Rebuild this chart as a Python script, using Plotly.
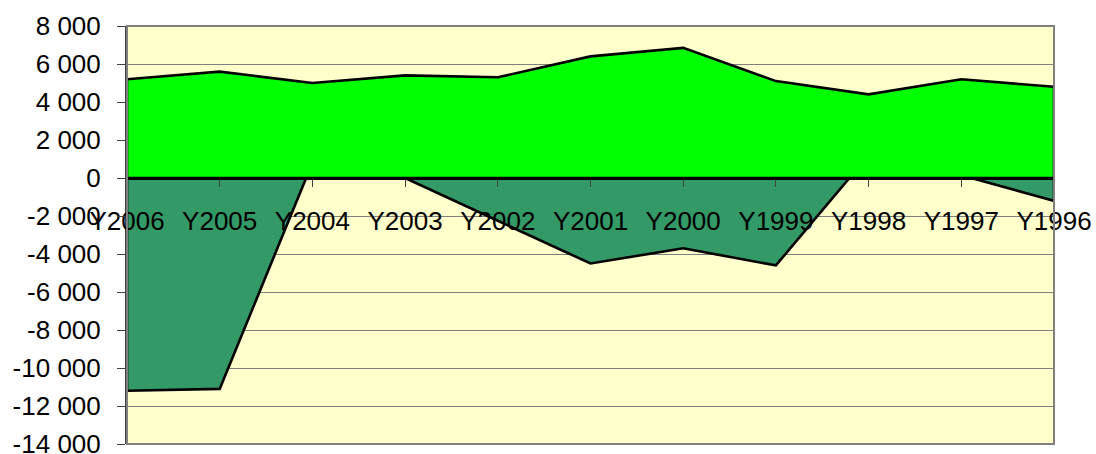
import plotly.graph_objects as go

categories = ["Y2006", "Y2005", "Y2004", "Y2003", "Y2002", "Y2001",
              "Y2000", "Y1999", "Y1998", "Y1997", "Y1996"]
series_positive = [5200, 5600, 5000, 5400, 5300, 6400, 6850, 5100, 4400, 5200, 4800]
series_negative = [-11200, -11100, 800, 0, -2250, -4500, -3700, -4600, 1200, 150, -1200]
y_ticks = [8000, 6000, 4000, 2000, 0, -2000, -4000, -6000, -8000, -10000, -12000, -14000]
y_tick_labels = [f"{v:,}".replace(",", " ") for v in y_ticks]

FONT = "Liberation Sans, Arial, sans-serif"
FS = 26
idx = list(range(len(categories)))


def polygon(vals):
    xs = idx + [idx[-1], idx[0], idx[0]]
    ys = list(vals) + [0, 0, vals[0]]
    return xs, ys


fig = go.Figure()
xn, yn = polygon(series_negative)
fig.add_trace(go.Scatter(x=xn, y=yn, mode="lines", fill="toself",
                         fillcolor="#339966", line=dict(color="#000000", width=2.6),
                         hoverinfo="skip", showlegend=False))
xp, yp = polygon(series_positive)
fig.add_trace(go.Scatter(x=xp, y=yp, mode="lines", fill="toself",
                         fillcolor="#00FF00", line=dict(color="#000000", width=2.6),
                         hoverinfo="skip", showlegend=False))

ymin, ymax = -14000, 8000
zero_pos = (0 - ymin) / (ymax - ymin)

fig.update_layout(
    width=1096, height=454,
    margin=dict(l=127, r=42, t=26, b=10),
    paper_bgcolor="#FFFFFF",
    plot_bgcolor="#FFFFCC",
    font=dict(family=FONT, size=FS, color="#000000"),
    xaxis=dict(
        range=[0, len(categories) - 1],
        tickmode="array", tickvals=idx, ticktext=categories,
        anchor="free", position=zero_pos,
        showgrid=False, zeroline=False,
        showline=True, linecolor="#000000", linewidth=3,
        ticks="outside", ticklen=7, tickwidth=1, tickcolor="#404040",
        ticklabelstandoff=12,
        ticklabeloverflow="allow",
        automargin=False,
        tickfont=dict(family=FONT, size=FS, color="#000000"),
        fixedrange=True,
    ),
    yaxis=dict(
        range=[ymin, ymax],
        tickmode="array", tickvals=y_ticks, ticktext=y_tick_labels,
        showgrid=True, gridcolor="#808080", gridwidth=1,
        zeroline=False,
        showline=True, linecolor="#404040", linewidth=2, mirror=False,
        ticks="outside", ticklen=8, tickwidth=1, tickcolor="#404040",
        ticklabelstandoff=11,
        ticklabeloverflow="allow",
        automargin=False,
        tickfont=dict(family=FONT, size=FS, color="#000000"),
        fixedrange=True,
    ),
    shapes=[dict(type="rect", xref="paper", yref="paper", x0=0, x1=1, y0=0, y1=1,
                 line=dict(color="#808080", width=2), layer="above")],
)

fig.write_html("out.html")
